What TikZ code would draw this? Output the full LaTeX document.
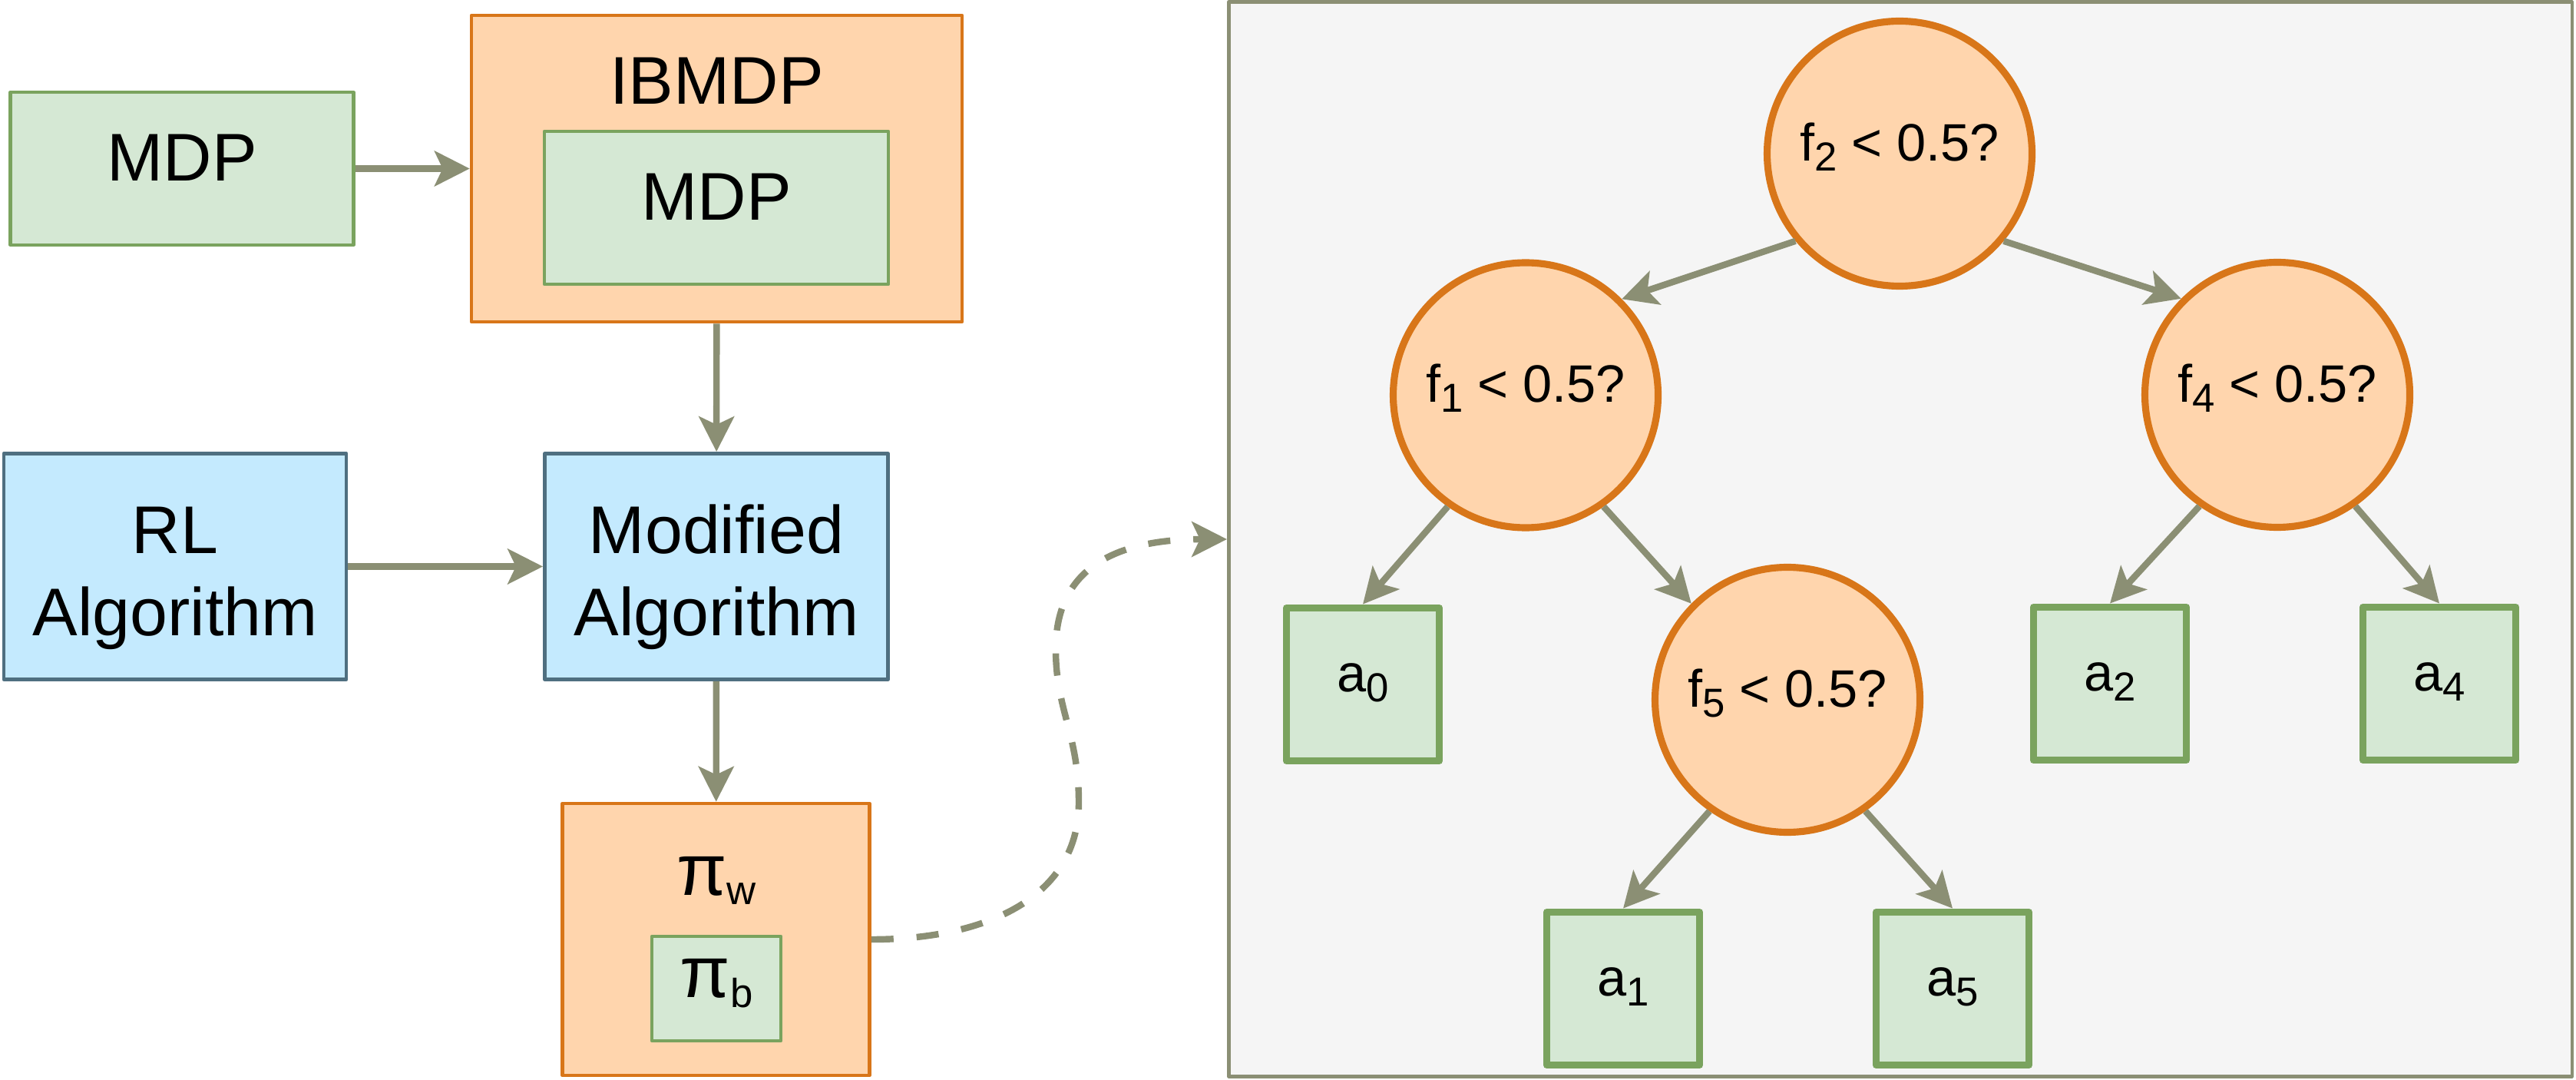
\documentclass[tikz,border=0pt]{standalone}
\usepackage{fontspec}
\setmainfont{Liberation Sans}
\usetikzlibrary{arrows.meta}
\definecolor{greenfill}{HTML}{D5E8D4}
\definecolor{greenline}{HTML}{7AA35E}
\definecolor{orangefill}{HTML}{FFD5AD}
\definecolor{orangeline}{HTML}{D87619}
\definecolor{bluefill}{HTML}{C4EAFE}
\definecolor{blueline}{HTML}{4F6F80}
\definecolor{arrowgray}{HTML}{8B8F74}
\definecolor{bggray}{HTML}{F5F5F5}
\newcommand{\bigtxt}{\fontsize{25}{30.5}\selectfont}
\newcommand{\treetxt}{\fontsize{19.5}{23}\selectfont}
\newcommand{\pitxt}{\fontsize{27}{32}\selectfont}
\newcommand{\lowsub}[1]{\raisebox{-3.6pt}{\fontsize{15}{18}\selectfont #1}}
\tikzset{
    greenbox/.style={
        rectangle, draw=greenline, fill=greenfill, line width=1.2pt,
        inner sep=0pt, font=\bigtxt, text height=0.9em, text depth=0pt
    },
    orangebox/.style={
        rectangle, draw=orangeline, fill=orangefill, line width=1.3pt, inner sep=0pt
    },
    bluebox/.style={
        rectangle, draw=blueline, fill=bluefill, line width=1.4pt,
        inner sep=0pt, align=center, font=\bigtxt
    },
    testnode/.style={
        circle, draw=orangeline, fill=orangefill, line width=2.6pt,
        minimum size=3.45cm, inner sep=0pt, font=\treetxt,
        text height=0.9em, text depth=3.6pt
    },
    leafnode/.style={
        rectangle, draw=greenline, fill=greenfill, line width=2.8pt,
        minimum width=1.99cm, minimum height=1.99cm, inner sep=0pt,
        font=\treetxt, text height=0.9em, text depth=3.6pt
    },
    flow/.style={
        draw=arrowgray, line width=2.4pt, line cap=butt,
        -{Stealth[length=13pt,width=13pt,inset=3pt]}
    }
}

\begin{document}
\begin{tikzpicture}[x=1cm,y=1cm,line cap=round,line join=round]
\useasboundingbox (0,0) rectangle (33.55,14.05);

% left part: environments and algorithms
\node[greenbox, minimum width=4.47cm, minimum height=1.99cm] (mdp) at (2.37,11.855) {MDP};
\node[orangebox, minimum width=6.39cm, minimum height=3.99cm] (ibmdp) at (9.335,11.855) {};
\node[anchor=base, font=\bigtxt] (ibmdplab) at (9.335,12.69) {IBMDP};
\node[greenbox, minimum width=4.48cm, minimum height=1.99cm] (mdpin) at (9.33,11.345) {MDP};

\node[bluebox, minimum width=4.46cm, minimum height=2.94cm] (rlalg) at (2.28,6.675) {\rule{0pt}{1.04em}RL\\Algorithm};
\node[bluebox, minimum width=4.47cm, minimum height=2.94cm] (modalg) at (9.33,6.675) {\rule{0pt}{1.04em}Modified\\Algorithm};

% policies
\node[orangebox, minimum width=4.0cm, minimum height=3.54cm] (piw) at (9.325,1.82) {};
\node[anchor=base, font=\pitxt] (piwlab) at (9.33,2.40) {π\lowsub{w}};
\node[greenbox, line width=1.2pt, minimum width=1.68cm, minimum height=1.36cm,
      font=\pitxt, text height=1.02em, text depth=3.5pt] (pib) at (9.33,1.18) {π\lowsub{b}};

\draw[flow] (mdp) -- (ibmdp);
\draw[flow] (ibmdp) -- (modalg);
\draw[flow] (rlalg) -- (modalg);
\draw[flow] (modalg) -- (piw);

% right part: the extracted tree
\node[rectangle, draw=arrowgray, fill=bggray, line width=1.3pt,
      minimum width=17.495cm, minimum height=13.985cm] (tree) at (24.75,7.03) {};

\node[testnode] (root) at (24.74,12.05) {f\lowsub{2} < 0.5?};
\node[testnode] (fone) at (19.87,8.905) {f\lowsub{1} < 0.5?};
\node[testnode] (ffour) at (29.66,8.91) {f\lowsub{4} < 0.5?};
\node[testnode] (ffive) at (23.28,4.94) {f\lowsub{5} < 0.5?};

\node[leafnode] (azero) at (17.75,5.14) {a\lowsub{0}};
\node[leafnode] (atwo) at (27.48,5.15) {a\lowsub{2}};
\node[leafnode] (afour) at (31.77,5.15) {a\lowsub{4}};
\node[leafnode] (aone) at (21.14,1.18) {a\lowsub{1}};
\node[leafnode] (afive) at (25.43,1.18) {a\lowsub{5}};

\draw[flow] (root.220) -- (fone.45);
\draw[flow] (root.320) -- (ffour.135);
\draw[flow] (fone.305) -- (ffive.135);
\foreach \from/\to in {fone.235/azero.north, ffour.235/atwo.north, ffour.305/afour.north,
                       ffive.235/aone.north, ffive.305/afive.north} {
  \draw[flow] (\from) -- (\to);
}

% the policy becomes the tree
\draw[flow, dash pattern=on 0.29cm off 0.3cm]
  (piw.east) .. controls (12.9,1.82) and (14.05,2.4) .. (14.05,3.6)
  .. controls (14.05,4.5) and (13.75,4.8) .. (13.75,5.6)
  .. controls (13.75,6.7) and (14.6,7.03) .. (tree.west);

\end{tikzpicture}
\end{document}
